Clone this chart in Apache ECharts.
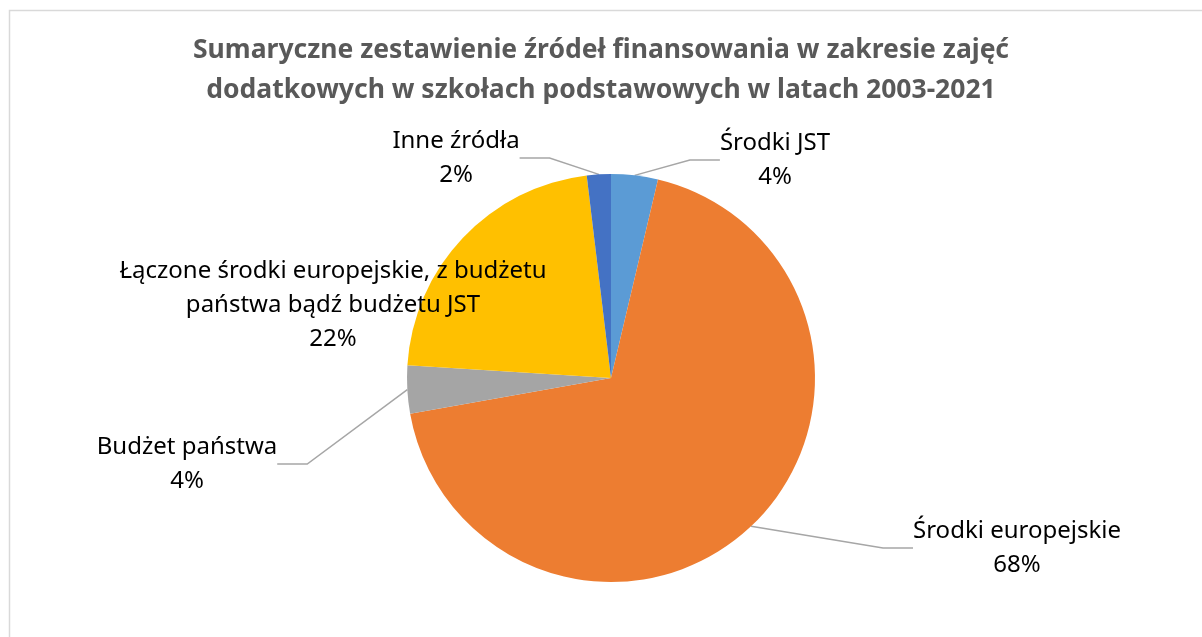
<!DOCTYPE html>
<html lang="pl">
<head>
    <meta charset="UTF-8">
    <title>Źródła finansowania</title>
    <script src="https://cdn.jsdelivr.net/npm/echarts@6/dist/echarts.min.js" charset="utf-8"></script>
    <style>
        html, body { margin: 0; padding: 0; background: #fff; }
        #main { width: 1202px; height: 637px; }
    </style>
</head>
<body>
<div id="main"></div>
<script>
    // dane
    var categories = ['Środki JST', 'Środki europejskie', 'Budżet państwa',
        'Łączone środki europejskie, z budżetu\npaństwa bądź budżetu JST', 'Inne źródła'];
    var values = [3.7, 68.5, 3.8, 22.1, 1.9];
    var percentLabels = ['4%', '68%', '4%', '22%', '2%'];
    var colors = ['#5B9BD5', '#ED7D31', '#A5A5A5', '#FFC000', '#4472C4'];
    var showLeader = [true, true, true, false, true];

    // gdzie stoją etykiety (środek bloku tekstu)
    var labelPos = [[775, 160], [1017, 548], [187, 464], [333, 305], [456, 158]];

    var pieData = [];
    for (var i = 0; i < categories.length; i++) {
        pieData.push({
            name: categories[i],
            value: values[i],
            itemStyle: {color: colors[i]},
            labelLine: {show: showLeader[i]}
        });
    }

    var myChart = echarts.init(document.getElementById('main'));
    var option = {
        backgroundColor: '#fff',
        animation: false,
        title: {
            text: 'Sumaryczne zestawienie źródeł finansowania w zakresie zajęć\ndodatkowych w szkołach podstawowych w latach 2003-2021',
            left: 'center',
            top: 25,
            textStyle: {
                fontFamily: 'Noto Sans',
                fontSize: 26.5,
                fontWeight: 'bold',
                color: '#595959',
                lineHeight: 40
            }
        },
        graphic: [{
            type: 'rect',
            shape: {x: 9.5, y: 10.5, width: 1220, height: 660},
            style: {fill: 'none', stroke: '#d9d9d9', lineWidth: 1.5}
        }],
        series: [{
            type: 'pie',
            center: [611, 378],
            radius: 204,
            startAngle: 90,
            clockwise: true,
            data: pieData,
            itemStyle: {borderWidth: 0},
            label: {
                show: true,
                position: 'outside',
                formatter: function (p) {
                    return p.name + '\n' + percentLabels[p.dataIndex];
                },
                fontFamily: 'Noto Sans',
                fontSize: 24,
                lineHeight: 34,
                color: '#000',
                align: 'center',
                overflow: 'none'
            },
            labelLine: {
                show: true,
                lineStyle: {color: '#a6a6a6', width: 1.5}
            },
            labelLayout: function (params) {
                var pos = labelPos[params.dataIndex];
                return {
                    x: pos[0],
                    y: pos[1],
                    align: 'center',
                    verticalAlign: 'middle'
                };
            },
            emphasis: {disabled: true}
        }]
    };

    myChart.setOption(option);
    window.addEventListener('resize', function () {
        myChart.resize();
    });
</script>
</body>
</html>
